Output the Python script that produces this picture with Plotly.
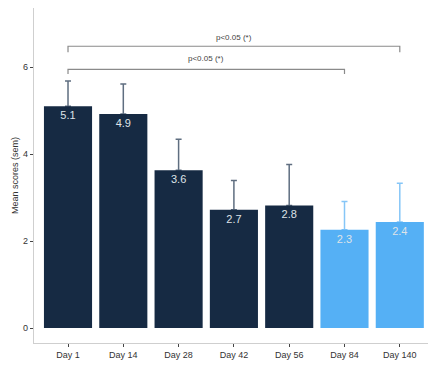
import plotly.graph_objects as go

# Mean scores per visit, upper SEM and group membership
days = ["Day 1", "Day 14", "Day 28", "Day 42", "Day 56", "Day 84", "Day 140"]
means = [5.1, 4.92, 3.63, 2.72, 2.82, 2.26, 2.44]
sem_upper = [0.58, 0.69, 0.71, 0.67, 0.94, 0.65, 0.89]
followup = [False, False, False, False, False, True, True]

# Significance brackets: (from, to, bracket height, tip height, label height, label x)
brackets = [
    ("Day 1", "Day 140", 6.48, 6.34, 6.69, 3.0),
    ("Day 1", "Day 84", 5.95, 5.84, 6.21, 2.5),
]
sig_label = "p<0.05 (*)"

DARK = "#162a43"
LIGHT = "#55b0f5"
FONT = "Liberation Sans, Arial, sans-serif"

groups = [(False, DARK, "#5f6e80"), (True, LIGHT, "#86c6f7")]

fig = go.Figure()

# Transparent bars carrying the one-sided SEM whiskers (drawn first so the
# visible bars hide the lower end of each whisker)
for is_follow, bar_col, err_col in groups:
    idx = [i for i, f in enumerate(followup) if f == is_follow]
    fig.add_trace(go.Bar(
        x=[days[i] for i in idx],
        y=[means[i] for i in idx],
        marker=dict(color="rgba(0,0,0,0)", line=dict(width=0)),
        error_y=dict(type="data", symmetric=False,
                     array=[sem_upper[i] for i in idx],
                     arrayminus=[0] * len(idx),
                     color=err_col, thickness=1.5, width=3),
        showlegend=False, hoverinfo="skip",
    ))

# Visible bars with value labels
for is_follow, bar_col, err_col in groups:
    idx = [i for i, f in enumerate(followup) if f == is_follow]
    fig.add_trace(go.Bar(
        x=[days[i] for i in idx],
        y=[means[i] for i in idx],
        marker=dict(color=bar_col, line=dict(width=0)),
        texttemplate="%{y:.1f}",
        textposition="inside",
        insidetextanchor="end",
        textangle=0,
        textfont=dict(color="#dfe3e8", size=11, family=FONT),
        showlegend=False,
        hoverinfo="skip",
    ))

for x0, x1, yb, yt, yl, xc in brackets:
    fig.add_trace(go.Scatter(
        x=[x0, x0, x1, x1], y=[yt, yb, yb, yt],
        mode="lines", line=dict(color="#8a8a8a", width=1.2),
        showlegend=False, hoverinfo="skip",
    ))
    fig.add_annotation(x=xc, y=yl, text=sig_label, showarrow=False,
                       font=dict(size=8, color="#444444", family=FONT))

fig.update_layout(
    width=428, height=367,
    margin=dict(l=34, r=0, t=8, b=24),
    plot_bgcolor="white", paper_bgcolor="white",
    barmode="overlay", bargap=0.13,
    font=dict(family=FONT, size=9, color="#333333"),
    xaxis=dict(
        categoryorder="array", categoryarray=days,
        range=[-0.615, 6.51],
        showline=True, linecolor="#cfcfcf", linewidth=1.2,
        ticks="outside", ticklen=3, tickcolor="#444444", tickwidth=1,
        showgrid=False, zeroline=False,
        tickfont=dict(size=9, color="#333333"),
    ),
    yaxis=dict(
        range=[-0.345, 7.36],
        tickvals=[0, 2, 4, 6],
        showline=True, linecolor="#cfcfcf", linewidth=1.2,
        ticks="outside", ticklen=3, tickcolor="#444444", tickwidth=1,
        showgrid=False, zeroline=False,
        tickfont=dict(size=9, color="#333333"),
        title=dict(text="Mean scores (sem)", font=dict(size=9, color="#333333"), standoff=2),
    ),
)

fig.write_html("out.html")
